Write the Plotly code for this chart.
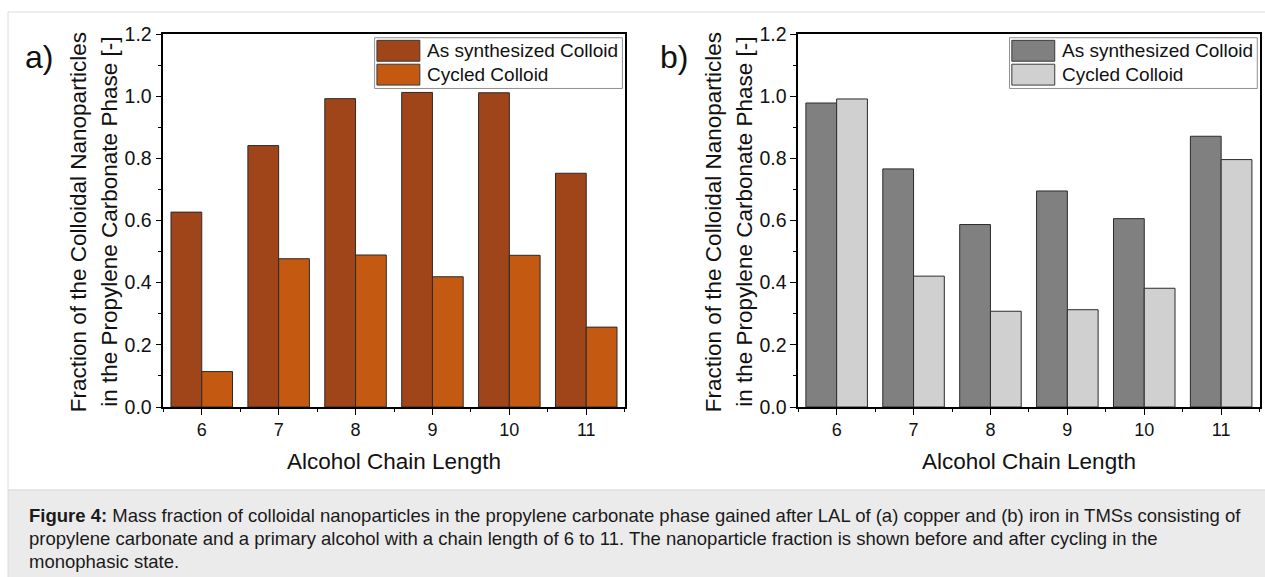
import plotly.graph_objects as go

# ---------------- data ----------------
chain_length = [6, 7, 8, 9, 10, 11]
series_names = ["As synthesized Colloid", "Cycled Colloid"]
copper_as_synth = [0.627, 0.841, 0.992, 1.012, 1.011, 0.752]
copper_cycled = [0.114, 0.477, 0.489, 0.419, 0.488, 0.257]
iron_as_synth = [0.978, 0.766, 0.587, 0.695, 0.606, 0.871]
iron_cycled = [0.991, 0.421, 0.308, 0.313, 0.382, 0.796]
y_ticks = [0.0, 0.2, 0.4, 0.6, 0.8, 1.0, 1.2]

panel_labels = ["a)", "b)"]
y_title_lines = ["Fraction of the Colloidal Nanoparticles",
                 "in the Propylene Carbonate Phase [-]"]
x_title = "Alcohol Chain Length"
caption_lines = [
    "<b>Figure 4:</b> Mass fraction of colloidal nanoparticles in the propylene carbonate phase gained after LAL of (a) copper and (b) iron in TMSs consisting of",
    "propylene carbonate and a primary alcohol with a chain length of 6 to 11. The nanoparticle fraction is shown before and after cycling in the",
    "monophasic state.",
]

# ---------------- styles ----------------
W, H = 1265, 577
FONT = "Liberation Sans, Arial, sans-serif"
colors_a = ["#A0441A", "#C45A12"]
colors_b = ["#808080", "#D1D0D1"]
plot_left_px = [163.3, 798.2]
plot_width_px = 461.4
top_px, bot_px = 34, 407


def py(p):
    """pixel row -> paper y"""
    return (bot_px - p) / (bot_px - top_px)


fig = go.Figure()

panels = [
    ("x", "y", copper_as_synth, copper_cycled, colors_a),
    ("x2", "y2", iron_as_synth, iron_cycled, colors_b),
]
for xa, ya, s1, s2, cols in panels:
    for name, vals, c in zip(series_names, [s1, s2], cols):
        fig.add_trace(go.Bar(
            x=chain_length, y=vals, name=name, xaxis=xa, yaxis=ya,
            marker=dict(color=c, line=dict(color="#2b2b2b", width=1)),
            showlegend=False,
        ))

axis_common = dict(
    showline=True, linecolor="black", linewidth=1.5, mirror=True,
    showgrid=False, zeroline=False, ticks="outside", ticklen=6,
    tickwidth=1.3, tickcolor="black",
)
for i, lp in enumerate(plot_left_px):
    sfx = "" if i == 0 else str(i + 1)
    dom = [lp / W, (lp + plot_width_px) / W]
    fig.layout["xaxis" + sfx] = dict(
        axis_common, domain=dom, range=[5.5, 11.5], tickvals=chain_length,
        ticktext=[str(v) for v in chain_length], anchor="y" + sfx,
        tickfont=dict(family=FONT, size=18, color="#111"),
        minor=dict(tick0=5.5, dtick=1, ticks="outside", ticklen=3.5,
                   tickcolor="black", tickwidth=1.3),
    )
    fig.layout["yaxis" + sfx] = dict(
        axis_common, domain=[0, 1], range=[0, 1.2], tickvals=y_ticks,
        ticktext=["%.1f" % v for v in y_ticks], anchor="x" + sfx,
        tickfont=dict(family=FONT, size=19.5, color="#111"),
        minor=dict(dtick=0.1, ticks="outside", ticklen=3.5,
                   tickcolor="black", tickwidth=1.3),
    )

shapes = []
annotations = []

# outer frame and caption box
shapes.append(dict(type="rect", xref="paper", yref="paper",
                   x0=8 / W, x1=1.01, y0=py(490), y1=py(12),
                   line=dict(color="#dcdcdc", width=1), fillcolor="rgba(0,0,0,0)", layer="below"))
shapes.append(dict(type="rect", xref="paper", yref="paper",
                   x0=8 / W, x1=1.01, y0=py(600), y1=py(490),
                   line=dict(color="#dcdcdc", width=1), fillcolor="#ebebeb", layer="below"))

for i, (lp, cols) in enumerate(zip(plot_left_px, [colors_a, colors_b])):
    sfx = "" if i == 0 else str(i + 1)
    xr, yr = "x" + sfx + " domain", "y" + sfx + " domain"
    # legend box
    shapes.append(dict(type="rect", xref=xr, yref=yr, x0=0.458, x1=0.995,
                       y0=0.854, y1=0.990, line=dict(color="#8f8f8f", width=1),
                       fillcolor="white"))
    sw = [(0.927, 0.983), (0.863, 0.919)]
    for (y0, y1), c, name in zip(sw, cols, series_names):
        shapes.append(dict(type="rect", xref=xr, yref=yr, x0=0.463, x1=0.556,
                           y0=y0, y1=y1, line=dict(color="#3a3a3a", width=1),
                           fillcolor=c))
        annotations.append(dict(xref=xr, yref=yr, x=0.567, y=(y0 + y1) / 2,
                                text=name, showarrow=False, xanchor="left",
                                yanchor="middle",
                                font=dict(family=FONT, size=19, color="#111")))
    # panel label
    annotations.append(dict(xref="paper", yref="paper", x=(lp - 124) / W,
                            y=py(57), text=panel_labels[i], showarrow=False,
                            xanchor="center", yanchor="middle",
                            font=dict(family=FONT, size=32, color="#111")))
    # y title (two lines)
    for off, line in zip([-85, -54.5], y_title_lines):
        annotations.append(dict(xref="paper", yref="paper", x=(lp + off) / W,
                                y=py(222), text=line, showarrow=False,
                                textangle=-90, xanchor="center", yanchor="middle",
                                font=dict(family=FONT, size=22.5, color="#111")))
    # x title
    annotations.append(dict(xref="paper", yref="paper",
                            x=(lp + plot_width_px / 2) / W,
                            y=py(461), text=x_title, showarrow=False,
                            xanchor="center", yanchor="middle",
                            font=dict(family=FONT, size=22.5, color="#111")))

for k, line in enumerate(caption_lines):
    annotations.append(dict(xref="paper", yref="paper", x=27 / W,
                            y=py(515 + 23 * k), text=line, showarrow=False,
                            xanchor="left", yanchor="middle",
                            font=dict(family=FONT, size=18.5, color="#1a1a1a")))

fig.update_layout(
    width=W, height=H, autosize=False,
    margin=dict(l=0, r=0, t=top_px, b=H - bot_px),
    paper_bgcolor="white", plot_bgcolor="white",
    barmode="group", bargap=0.2, bargroupgap=0,
    shapes=shapes, annotations=annotations, showlegend=False,
)

fig.write_html("out.html", config={"displayModeBar": False})
